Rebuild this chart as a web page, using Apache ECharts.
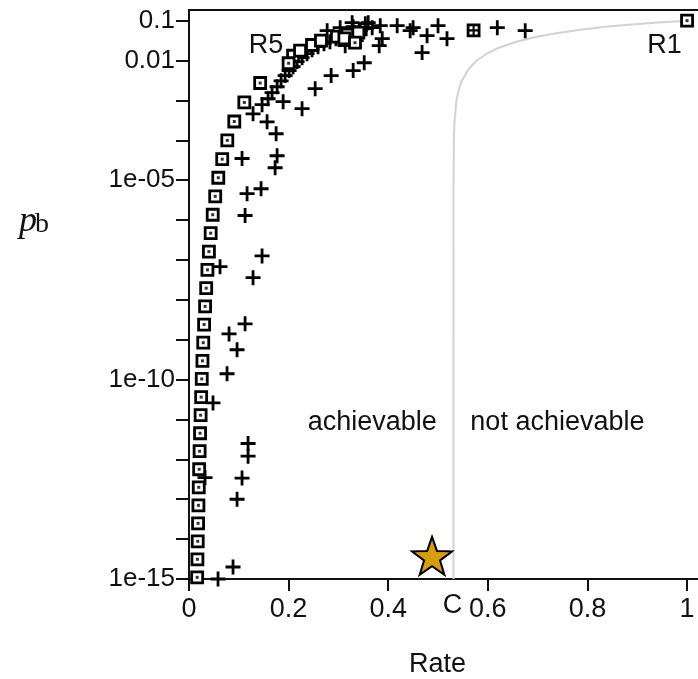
<!DOCTYPE html>
<html>
<head>
<meta charset="utf-8">
<script src="https://cdn.jsdelivr.net/npm/echarts@6/dist/echarts.min.js"></script>
<style>
  html, body { margin: 0; padding: 0; background: #fff; }
  #chart { width: 698px; height: 679px; }
</style>
</head>
<body>
<div id="chart"></div>
<script>
// ---- data (rate, bit error probability) ----
const xTickValues = [0, 0.2, 0.4, 0.6, 0.8, 1];
const xTickLabels = ['0', '0.2', '0.4', '0.6', '0.8', '1'];
const yTickValues = [1e-15, 1e-14, 1e-13, 1e-12, 1e-11, 1e-10, 1e-9, 1e-8, 1e-7, 1e-6, 1e-5, 1e-4, 1e-3, 1e-2, 1e-1];
const yLabelValues = [1e-15, 1e-10, 1e-5, 1e-2, 1e-1];
const yLabelTexts = ['1e-15', '1e-10', '1e-05', '0.01', '0.1'];

// repetition codes R1, R3, R5, ... (squares)
const repetitionCodes = [
  [1, 0.1], [0.3333, 0.028], [0.2, 8.56e-3], [0.1429, 2.73e-3], [0.1111, 8.9e-4],
  [0.0909, 2.96e-4], [0.0769, 9.95e-5], [0.0667, 3.37e-5], [0.0588, 1.15e-5],
  [0.0526, 3.94e-6], [0.0476, 1.36e-6], [0.0435, 4.69e-7], [0.04, 1.62e-7],
  [0.037, 5.64e-8], [0.0345, 1.96e-8], [0.0323, 6.85e-9], [0.0303, 2.4e-9],
  [0.0286, 8.41e-10], [0.027, 2.95e-10], [0.0256, 1.04e-10], [0.0244, 3.64e-11],
  [0.0233, 1.28e-11], [0.0222, 4.52e-12], [0.0213, 1.6e-12], [0.0204, 5.64e-13],
  [0.0196, 1.99e-13], [0.0189, 7.03e-14], [0.0182, 2.49e-14], [0.0175, 8.81e-15],
  [0.0169, 3.12e-15], [0.0164, 1.1e-15]
];
// other square-marked codes in the upper cluster
const clusterSquares = [
  [0.209, 0.0132], [0.223, 0.0177], [0.247, 0.0245], [0.265, 0.0315],
  [0.297, 0.0397], [0.318, 0.045], [0.34, 0.05], [0.312, 0.036]
];
// Hamming (7,4) code
const hammingCode = [[0.5714, 0.057]];
// BCH codes (plus markers)
const bchCodes = [
  [0.0583, 1.0e-15], [0.0884, 2.0e-15], [0.1186, 2.5e-12], [0.1186, 1.2e-12],
  [0.1065, 3.4e-13], [0.0965, 1.0e-13], [0.0322, 3.5e-13], [0.0482, 2.6e-11],
  [0.0764, 1.4e-10], [0.0965, 5.6e-10], [0.0804, 1.4e-9], [0.1126, 2.5e-9],
  [0.0623, 6.8e-8], [0.1286, 3.6e-8], [0.1467, 1.26e-7], [0.1126, 1.3e-6],
  [0.1166, 4.6e-6], [0.1447, 6.1e-6], [0.1065, 3.5e-5], [0.1769, 4.1e-5],
  [0.1729, 2.05e-5], [0.1568, 2.9e-4], [0.1749, 1.46e-4], [0.1286, 4.6e-4],
  [0.189, 9.3e-4], [0.227, 6.2e-4], [0.2533, 1.97e-3], [0.2854, 4.2e-3],
  [0.3296, 5.6e-3], [0.3518, 8.8e-3], [0.3819, 0.0236], [0.388, 0.0354],
  [0.468, 0.0158], [0.478, 0.042], [0.518, 0.0354], [0.50, 0.075],
  [0.45, 0.0667], [0.418, 0.075], [0.384, 0.075], [0.354, 0.084],
  [0.444, 0.056], [0.619, 0.0667], [0.675, 0.056],
  [0.1467, 7.8e-4], [0.1588, 1.1e-3], [0.1668, 1.56e-3], [0.1769, 2.2e-3],
  [0.1849, 3.1e-3], [0.193, 4.2e-3], [0.201, 5.6e-3], [0.209, 7.0e-3],
  [0.217, 9.4e-3], [0.227, 0.0118], [0.237, 0.0149], [0.247, 0.0187],
  [0.259, 0.0223], [0.271, 0.0265], [0.283, 0.0297], [0.295, 0.0353],
  [0.3075, 0.0397], [0.3196, 0.0446], [0.3317, 0.05], [0.3437, 0.0561],
  [0.3558, 0.063], [0.3678, 0.0667], [0.3136, 0.0236], [0.3357, 0.0315],
  [0.2774, 0.0561], [0.3035, 0.0667], [0.3296, 0.0706], [0.3598, 0.089],
  [0.3276, 0.089]
];
// Shannon limit curve
const shannonLimit = [
  [0.531, 1e-15], [0.531, 1e-10], [0.5311, 1e-5], [0.5318, 1e-4], [0.5331, 3e-4],
  [0.537, 1e-3], [0.5423, 2e-3], [0.547, 3e-3], [0.5607, 6e-3], [0.5777, 0.01],
  [0.5982, 0.015], [0.618, 0.02], [0.659, 0.03], [0.7008, 0.04], [0.744, 0.05],
  [0.7895, 0.06], [0.837, 0.07], [0.888, 0.08], [0.942, 0.09], [1.0, 0.1]
];
const starPoint = [[0.488, 3.8e-15]];
const annotations = [
  { name: 'R5', value: [0.1548, 0.0236] },
  { name: 'R1', value: [0.9548, 0.0236] },
  { name: 'achievable', value: [0.368, 8.2e-12] },
  { name: 'not achievable', value: [0.7397, 8.2e-12] }
];
const capacityLabel = [{ name: 'C', value: [0.531, 1e-15] }];

const FONT = '"Liberation Sans", Arial, sans-serif';
const TEXT = '#111';
const MARK = '#000';
const plusPath = 'path://M6.1,0H8.9V6.1H15V8.9H8.9V15H6.1V8.9H0V6.1H6.1Z';
const starPath = 'path://M50,0L61.76,33.82L97.55,34.55L69.02,56.18L79.39,90.45L50,70L20.61,90.45L30.98,56.18L2.45,34.55L38.24,33.82Z';

const chart = echarts.init(document.getElementById('chart'), null, { renderer: 'canvas' });
const option = {
  animation: false,
  backgroundColor: '#fff',
  grid: { left: 189, top: 10, right: -4, bottom: 100, show: true, borderColor: '#111', borderWidth: 2,
          containLabel: false, outerBoundsMode: 'none' },
  xAxis: {
    type: 'value', min: 0, max: 1.03,
    name: 'Rate', nameLocation: 'middle', nameGap: 72,
    nameTextStyle: { fontFamily: FONT, fontSize: 27, color: TEXT, padding: [0, 16, 0, 0] },
    axisLine: { show: true, lineStyle: { color: '#111', width: 2 } },
    axisTick: { show: true, length: 12, lineStyle: { color: '#111', width: 2 }, customValues: xTickValues },
    axisLabel: { fontFamily: FONT, fontSize: 27, color: TEXT, margin: 17, customValues: xTickValues,
      formatter: v => { const i = xTickValues.findIndex(t => Math.abs(t - v) < 1e-9); return i >= 0 ? xTickLabels[i] : ''; } },
    splitLine: { show: false }
  },
  yAxis: {
    type: 'log', logBase: 10, min: 1e-15, max: 0.185,
    axisLine: { show: true, lineStyle: { color: '#111', width: 2 } },
    axisTick: { show: true, length: 13, lineStyle: { color: '#111', width: 2 }, customValues: yTickValues },
    axisLabel: { fontFamily: FONT, fontSize: 26, color: TEXT, margin: 14, customValues: yLabelValues,
      formatter: v => { const e = Math.round(Math.log10(v)); const i = yLabelValues.findIndex(t => Math.round(Math.log10(t)) === e); return i >= 0 ? yLabelTexts[i] : ''; } },
    splitLine: { show: false }
  },
  series: [
    { type: 'line', data: shannonLimit, showSymbol: false, symbol: 'none', smooth: false,
      lineStyle: { color: '#d2d2d2', width: 2 }, z: 1, silent: true },
    { type: 'scatter', data: bchCodes, symbol: plusPath, symbolSize: 15,
      itemStyle: { color: MARK, opacity: 1 }, z: 2, silent: true },
    { type: 'scatter', data: clusterSquares.concat(repetitionCodes), symbol: 'rect', symbolSize: 11,
      itemStyle: { color: '#fff', borderColor: MARK, borderWidth: 2.8, opacity: 1 }, z: 3, silent: true },
    { type: 'scatter', data: repetitionCodes, symbol: 'rect', symbolSize: 3,
      itemStyle: { color: '#333', opacity: 1 }, z: 4, silent: true },
    { type: 'scatter', data: hammingCode, symbol: 'rect', symbolSize: 11,
      itemStyle: { color: '#fff', borderColor: MARK, borderWidth: 2.8, opacity: 1 }, z: 4, silent: true },
    { type: 'scatter', data: hammingCode, symbol: plusPath, symbolSize: 11,
      itemStyle: { color: MARK, opacity: 1 }, z: 5, silent: true },
    { type: 'scatter', data: starPoint, symbol: starPath, symbolSize: [40, 38],
      itemStyle: { color: '#d69e0c', borderColor: '#000', borderWidth: 2, opacity: 1 }, z: 6, silent: true },
    { type: 'scatter', data: annotations, symbolSize: 1, itemStyle: { color: 'rgba(0,0,0,0)', opacity: 1 }, z: 7, silent: true,
      label: { show: true, position: 'inside', formatter: '{b}', fontFamily: FONT, fontSize: 27, color: TEXT, opacity: 1 } },
    { type: 'scatter', data: capacityLabel, symbolSize: 1, itemStyle: { color: 'rgba(0,0,0,0)', opacity: 1 }, z: 7, silent: true, clip: false,
      label: { show: true, position: 'inside', offset: [-1, 27], formatter: '{b}', fontFamily: FONT, fontSize: 27, color: TEXT, opacity: 1 } }
  ],
  graphic: [
    { type: 'text', left: 19, top: 204, style: { text: 'p', font: 'italic 36px "Liberation Serif", serif', fill: TEXT } },
    { type: 'text', left: 35, top: 211, style: { text: 'b', font: '28px "Liberation Serif", serif', fill: TEXT } }
  ]
};
chart.setOption(option);
</script>
</body>
</html>
